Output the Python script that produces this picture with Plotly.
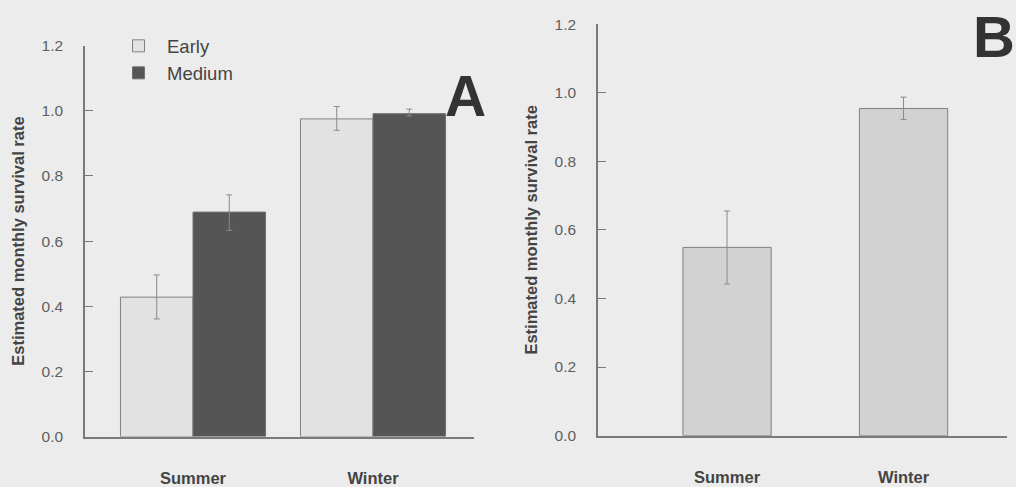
import plotly.graph_objects as go

categories = ["Summer", "Winter"]
early = [0.428, 0.975]
early_plus = [0.068, 0.038]
early_minus = [0.067, 0.035]
medium = [0.689, 0.991]
medium_plus = [0.053, 0.014]
medium_minus = [0.056, 0.007]
pooled = [0.549, 0.954]
pooled_plus = [0.106, 0.033]
pooled_minus = [0.107, 0.032]
yticks = [0.0, 0.2, 0.4, 0.6, 0.8, 1.0, 1.2]

W, H = 1016, 487
BG = "#ececec"
AX = "#7a7a7a"
FONT = "Liberation Sans, Arial, sans-serif"

def err(p, m):
    return dict(type="data", symmetric=False, array=p, arrayminus=m,
                color="#8a8a8a", thickness=1, width=3)

fig = go.Figure()
fig.add_trace(go.Bar(x=categories, y=early, name="Early", width=0.403, offset=-0.403,
                     marker=dict(color="#e2e2e2", line=dict(color="#808080", width=1)),
                     error_y=err(early_plus, early_minus), xaxis="x", yaxis="y"))
fig.add_trace(go.Bar(x=categories, y=medium, name="Medium", width=0.403, offset=0,
                     marker=dict(color="#555555", line=dict(color="#707070", width=1)),
                     error_y=err(medium_plus, medium_minus), xaxis="x", yaxis="y"))
fig.add_trace(go.Bar(x=categories, y=pooled, name="All", width=0.5, offset=-0.25,
                     showlegend=False,
                     marker=dict(color="#d2d2d2", line=dict(color="#808080", width=1)),
                     error_y=err(pooled_plus, pooled_minus), xaxis="x2", yaxis="y2"))

def px(x):
    return x / W

def py(y):
    return 1 - y / H

xcommon = dict(type="category", showline=True, linecolor=AX, linewidth=1.5,
               ticks="", showgrid=False, zeroline=False,
               tickfont=dict(family=FONT, size=16.5, color="#444444", weight="bold"),
               ticklabelstandoff=26)
ycommon = dict(range=[0, 1.2], tickvals=yticks, tickformat=".1f", showline=True,
               linecolor=AX, linewidth=1.5, ticks="inside", ticklen=8, tickcolor=AX,
               showgrid=False, zeroline=False,
               tickfont=dict(family=FONT, size=15.5, color="#5f5f5f"),
               ticklabelstandoff=17,
               title=dict(text="Estimated monthly survival rate", standoff=13,
                          font=dict(family=FONT, size=16.5, color="#444444", weight="bold")))

fig.update_layout(
    width=W, height=H, margin=dict(l=0, r=0, t=0, b=0),
    paper_bgcolor=BG, plot_bgcolor=BG, barmode="overlay",
    font=dict(family=FONT),
    xaxis=dict(xcommon, domain=[px(85), px(474)], range=[-0.6, 1.561], anchor="y"),
    yaxis=dict(ycommon, domain=[py(444), py(38)], anchor="x"),
    xaxis2=dict(xcommon, domain=[px(598), px(1007)], range=[-0.731, 1.586], anchor="y2"),
    yaxis2=dict(ycommon, domain=[py(443), py(15.7)], anchor="x2"),
    legend=dict(x=px(110), y=py(19), xanchor="left", yanchor="top", itemwidth=47,
                bgcolor="rgba(0,0,0,0)", tracegroupgap=0,
                font=dict(family=FONT, size=18.5, color="#444444")),
    showlegend=True,
    annotations=[
        dict(text="<b>A</b>", x=px(465), y=py(55), xref="paper", yref="paper",
             showarrow=False, font=dict(family=FONT, size=57, color="#333333")),
        dict(text="<b>B</b>", x=1, y=1, xref="paper", yref="paper",
             xanchor="right", yanchor="top", showarrow=False, xshift=1, yshift=7,
             font=dict(family=FONT, size=58, color="#333333")),
    ],
)

fig.write_html("out.html")
